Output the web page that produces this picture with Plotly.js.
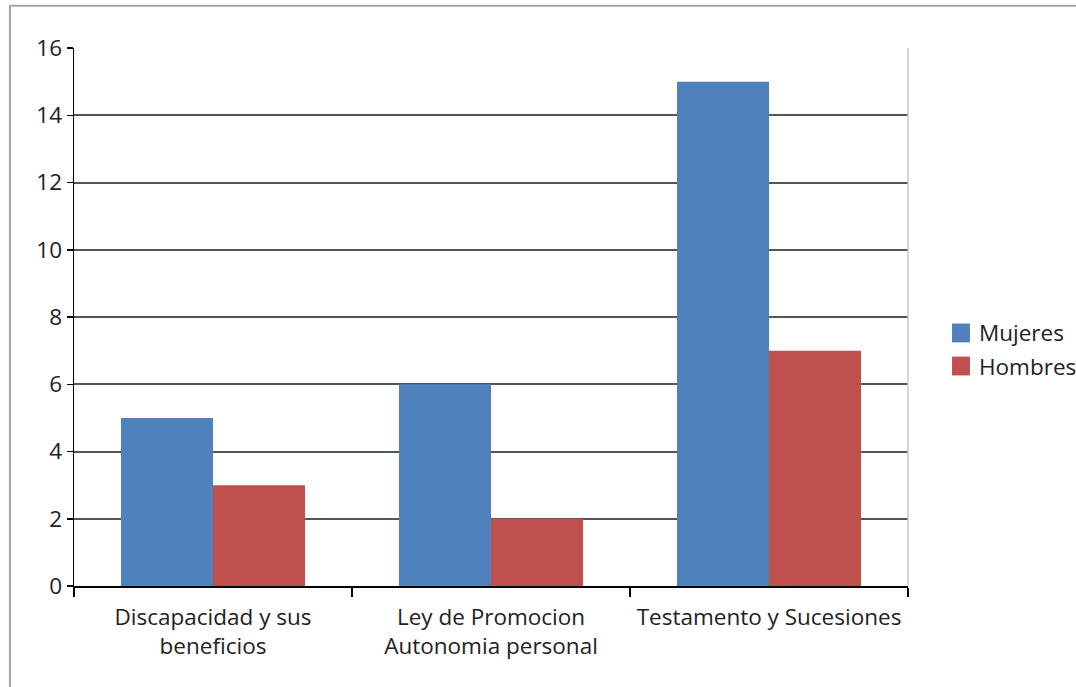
<!DOCTYPE html>
<html>
<head>
<meta charset="utf-8">
<script src="https://cdn.plot.ly/plotly-3.0.1.min.js"></script>
<style>
  html, body { margin: 0; padding: 0; background: #fff; }
  #chart { width: 1076px; height: 687px; }
</style>
</head>
<body>
<div id="chart"></div>
<script>
// Consultas por tema, separadas por sexo
const categories = [
  "Discapacidad y sus<br>beneficios",
  "Ley de Promocion<br>Autonomia personal",
  "Testamento y Sucesiones"
];
const mujeres = [5, 6, 15];
const hombres = [3, 2, 7];
const seriesNames = ["Mujeres", "Hombres"];
const seriesColors = ["#4F81BD", "#C0504D"];
const yTicks = [0, 2, 4, 6, 8, 10, 12, 14, 16];

const textFont = { family: "Open Sans, sans-serif", size: 22.5, color: "#222" };

const traces = [mujeres, hombres].map((vals, i) => ({
  type: "bar", name: seriesNames[i], x: categories, y: vals,
  marker: { color: seriesColors[i] }, hoverinfo: "y"
}));

// Legend drawn beside the plot: square swatch + label per series
const legendX = 1.0528, legendW = 0.0215, swatchH = 0.035;
const legendCenters = [0.4703, 0.4089];
const legendShapes = seriesNames.map((n, i) => ({
  type: "rect", xref: "paper", yref: "paper",
  x0: legendX, x1: legendX + legendW,
  y0: legendCenters[i] - swatchH / 2, y1: legendCenters[i] + swatchH / 2,
  line: { width: 0 }, fillcolor: seriesColors[i]
}));
const legendLabels = seriesNames.map((n, i) => ({
  xref: "paper", yref: "paper",
  x: 1.0827, y: legendCenters[i], xanchor: "left", yanchor: "middle",
  text: n, showarrow: false, font: textFont
}));

const layout = {
  width: 1076, height: 687,
  margin: { l: 74, r: 168, t: 48, b: 101, autoexpand: false },
  paper_bgcolor: "#fff", plot_bgcolor: "#fff",
  font: textFont,
  barmode: "group",
  bargap: 0.338, bargroupgap: 0,
  showlegend: false,
  xaxis: {
    type: "category",
    tickson: "boundaries",
    ticks: "outside", ticklen: 9, tickcolor: "#000", tickwidth: 1.5,
    showline: true, linecolor: "#000", linewidth: 1.5,
    showgrid: false, zeroline: false,
    ticklabelstandoff: 10,
    tickfont: textFont
  },
  yaxis: {
    range: [0, 16], tickvals: yTicks,
    ticks: "outside", ticklen: 6, tickcolor: "#000", tickwidth: 1.5,
    showline: true, linecolor: "#000", linewidth: 1.5,
    showgrid: true, gridcolor: "#555555", gridwidth: 2,
    zeroline: false,
    tickfont: textFont
  },
  shapes: [
    // outer frame of the figure
    { type: "rect", xref: "paper", yref: "paper",
      x0: -0.0768, x1: 1.3, y0: -0.3, y1: 1.0785,
      line: { color: "#a6a6a6", width: 2 }, fillcolor: "rgba(0,0,0,0)", layer: "below" },
    // right edge of plot area
    { type: "line", xref: "paper", yref: "paper",
      x0: 1, x1: 1, y0: 0, y1: 1,
      line: { color: "#c8c8c8", width: 1.5 } }
  ].concat(legendShapes),
  annotations: legendLabels
};

Plotly.newPlot("chart", traces, layout, { displayModeBar: false, staticPlot: true });
</script>
</body>
</html>
